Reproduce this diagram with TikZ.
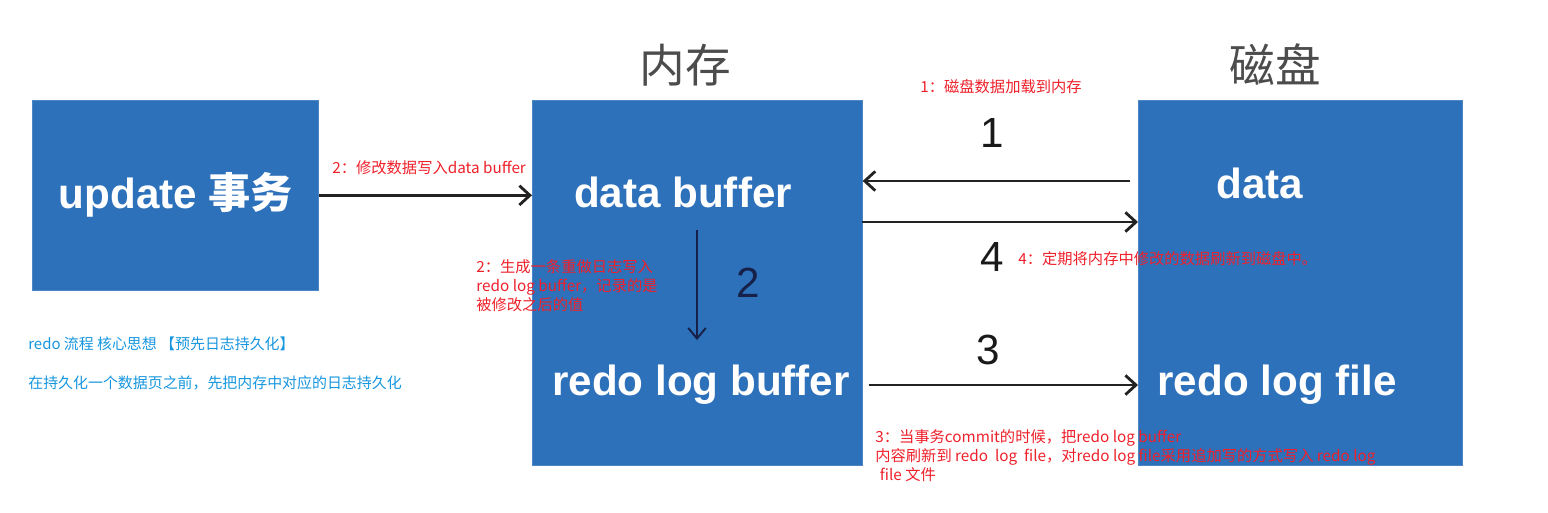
\documentclass[tikz,border=0pt]{standalone}
\usepackage{fontspec}
\setmainfont{Liberation Sans}
\newfontfamily\cjk{Noto Sans CJK SC}
\usetikzlibrary{arrows.meta}

\definecolor{boxblue}{RGB}{46,113,187}
\definecolor{notered}{RGB}{238,32,42}
\definecolor{noteblue}{RGB}{22,150,222}
\definecolor{arrowgray}{RGB}{34,34,34}
\definecolor{navy}{RGB}{22,32,72}

\tikzset{
  membox/.style = {fill=boxblue, draw=boxblue!85!white, anchor=north west, inner sep=0pt},
  boxtext/.style = {text=white, font=\fontsize{24}{28}\selectfont\bfseries},
  titletext/.style = {text=black!70, font=\cjk\fontsize{26}{30}\selectfont},
  numtext/.style = {text=black!90, font=\fontsize{24}{28}\selectfont},
  rednote/.style = {text=notered, font=\cjk\fontsize{8.7}{10.8}\selectfont, inner sep=0pt, align=left},
  bluenote/.style = {text=noteblue, font=\cjk\fontsize{8.5}{10.5}\selectfont, inner sep=0pt, align=left},
  arr/.style = {draw=arrowgray, line width=1.6pt, -{Straight Barb[length=6pt,width=11pt]}},
  downarr/.style = {draw=navy, line width=1.1pt, -{Straight Barb[length=6pt,width=10pt]}}
}

\begin{document}
\begin{tikzpicture}[x=0.02cm, y=-0.02cm]

    \useasboundingbox (0,0) rectangle (1548,512);

    % boxes
    \node[membox, minimum width=5.72cm, minimum height=3.8cm] (upd) at (32,100) {};
    \node[membox, minimum width=6.6cm, minimum height=7.3cm] (mem) at (532,100) {};
    \node[membox, minimum width=6.48cm, minimum height=7.3cm] (disk) at (1138,100) {};

    \node[titletext] (memtitle) at (685,65) {内存};
    \node[titletext] (disktitle) at (1275,65) {磁盘};

    \node[boxtext] (updtext) at (176,195) {update {\cjk 事务}};
    \node[boxtext] (dbuf) at (683,192) {data buffer};
    \node[boxtext] (rbuf) at (701,385) {redo log buffer};
    \node[boxtext] (data) at (1260,183) {data};
    \node[boxtext] (rfile) at (1277,385) {redo log file};

    % connectors
    \coordinate (load) at (1130,181);
    \coordinate (flush) at (862,222);
    \coordinate (logtop) at (697,230);
    \coordinate (logbot) at (697,340);

    \draw[arr] (upd.east) -- (mem.west |- upd.east);
    \draw[arr] (load) -- (mem.east |- load);
    \draw[arr] (flush) -- (disk.west |- flush);
    \draw[arr, shorten <=0.12cm] (mem.east |- rbuf) -- (disk.west |- rbuf);
    \draw[downarr] (logtop) -- (logbot);

    \node[numtext] (n1) at (992,133) {1};
    \node[numtext, text=navy] (n2) at (748,283) {2};
    \node[numtext] (n3) at (988,350) {3};
    \node[numtext] (n4) at (992,257) {4};

    % notes
    \node[rednote, anchor=west] (note1) at (920,87) {1：磁盘数据加载到内存};
    \node[rednote, anchor=west] (note2) at (332,168) {2：修改数据写入data buffer};
    \node[rednote, anchor=north west] (note2b) at (476,259) {2：生成一条重做日志写入\\redo log buffer，记录的是\\被修改之后的值};
    \node[rednote, anchor=west] (note4) at (1018,259) {4：定期将内存中修改的数据刷新到磁盘中。};
    \node[rednote, anchor=north west] (note3) at (875,429) {3：当事务commit的时候，把redo log buffer\\内容刷新到 redo\ \ log\ \ file，对redo log file采用追加写的方式写入 redo log\\\hspace{0.3em}file 文件};

    \node[bluenote, anchor=west] (idea) at (28,344) {redo 流程 核心思想 【预先日志持久化】};
    \node[bluenote, anchor=west] (rule) at (28,383) {在持久化一个数据页之前，先把内存中对应的日志持久化};

\end{tikzpicture}
\end{document}
